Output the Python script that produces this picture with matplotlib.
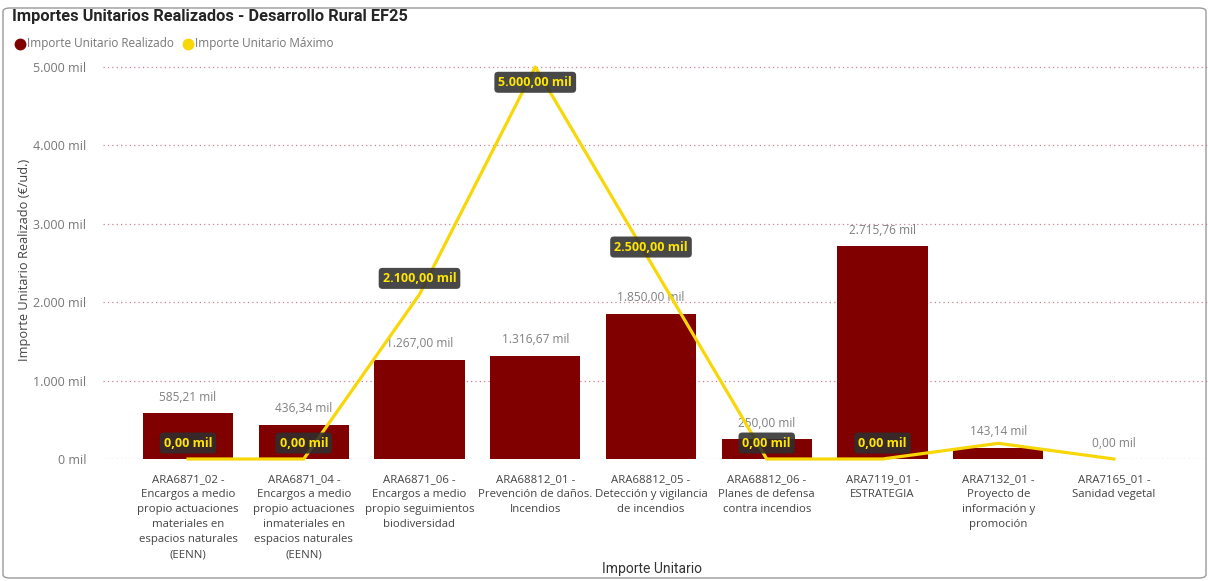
import matplotlib
matplotlib.use("Agg")
import matplotlib.pyplot as plt
from matplotlib.patches import FancyBboxPatch
from matplotlib.lines import Line2D
import numpy as np

categories = [
    "ARA6871_02 -\nEncargos a medio\npropio actuaciones\nmateriales en\nespacios naturales\n(EENN)",
    "ARA6871_04 -\nEncargos a medio\npropio actuaciones\ninmateriales en\nespacios naturales\n(EENN)",
    "ARA6871_06 -\nEncargos a medio\npropio seguimientos\nbiodiversidad",
    "ARA68812_01 -\nPrevención de daños.\nIncendios",
    "ARA68812_05 -\nDetección y vigilancia\nde incendios",
    "ARA68812_06 -\nPlanes de defensa\ncontra incendios",
    "ARA7119_01 -\nESTRATEGIA",
    "ARA7132_01 -\nProyecto de\ninformación y\npromoción",
    "ARA7165_01 -\nSanidad vegetal",
]
realizado = [585.21, 436.34, 1267.00, 1316.67, 1850.00, 250.00, 2715.76, 143.14, 0.00]
maximo = [0.0, 0.0, 2100.0, 5000.0, 2500.0, 0.0, 0.0, 200.0, 0.0]
maximo_label_visible = [True, True, True, True, True, True, True, False, False]
y_ticks = [0, 1000, 2000, 3000, 4000, 5000]

title = "Importes Unitarios Realizados - Desarrollo Rural EF25"
legend_names = ["Importe Unitario Realizado", "Importe Unitario Máximo"]
y_title = "Importe Unitario Realizado (€/ud.)"
x_title = "Importe Unitario"

BAR = "#800000"
LINE = "#F7D708"
W, H = 1208, 581

plt.rcParams['font.family'] = ['Open Sans', 'DejaVu Sans']

def fmt(v, dec=2):
    s = f"{v:,.{dec}f}"
    return s.replace(",", "X").replace(".", ",").replace("X", ".") + " mil"

fig = plt.figure(figsize=(W / 100, H / 100), dpi=100)

def fx(px):
    return px / W

def fy(py):
    return 1 - py / H

# border frame
frame = FancyBboxPatch((fx(3), fy(578)), fx(1203), fy(8) - fy(578),
                       boxstyle="round,pad=0,rounding_size=0.006",
                       transform=fig.transFigure, fill=False,
                       edgecolor="#9a9a9a", linewidth=1.0)
fig.patches.append(frame)

# axes placement
ax_left, ax_right = 103, 1208
ax_top, ax_bottom = 60, 459
ax = fig.add_axes([fx(ax_left), fy(ax_bottom), fx(ax_right - ax_left), fy(ax_top) - fy(ax_bottom)])

x = np.arange(len(categories))
spacing = 115.75
ax.set_xlim(-(188 - ax_left) / spacing, 8 + (ax_right - 1114) / spacing)
y_top = 5000 * (ax_bottom - ax_top) / (ax_bottom - 67)
ax.set_ylim(0, y_top)

for s in ax.spines.values():
    s.set_visible(False)

ax.set_yticks(y_ticks)
ax.set_yticklabels([fmt(v, 0) for v in y_ticks], color="#777777", fontsize=9)
ax.yaxis.grid(True, linestyle=(0, (1, 2.5)), color="#d08090", linewidth=0.9)
ax.set_axisbelow(True)
ax.tick_params(axis="y", length=0, pad=12)
ax.tick_params(axis="x", length=0, pad=11)
ax.set_xticks(x)
ax.set_xticklabels(categories, fontsize=8.2, color="#444444", linespacing=1.5, va="top")

bars = ax.bar(x, realizado, width=0.78, color=BAR, zorder=2)
for xi, v in zip(x, realizado):
    ax.annotate(fmt(v), (xi, v), xytext=(0, 11.5), textcoords="offset points",
                ha="center", va="center", fontsize=8.6, color="#808080", zorder=3)

ax.plot(x, maximo, color=LINE, linewidth=2.3, zorder=4, clip_on=False,
        solid_joinstyle="round")
for xi, v, vis in zip(x, maximo, maximo_label_visible):
    if not vis:
        continue
    off = -11 if v >= 5000 else 11.5
    ax.annotate(fmt(v), (xi, v), xytext=(0, off), textcoords="offset points",
                ha="center", va="center", fontsize=9, fontweight="bold",
                color="#FFE600", zorder=5,
                bbox=dict(boxstyle="round,pad=0.32,rounding_size=0.3",
                          fc="#2e2e2e", ec="none", alpha=0.88))

ax.set_ylabel(y_title, fontsize=9.2, color="#444444", labelpad=8)
ax.yaxis.set_label_coords(-(ax_left - 25) / (ax_right - ax_left), 0.5)
ax.yaxis.label.set_va("center")

fig.text(fx(652), fy(569), x_title, ha="center", va="center",
         fontsize=10, color="#333333", family=["Roboto", "DejaVu Sans"])

fig.text(fx(12), fy(17), title, ha="left", va="center", fontsize=11.8,
         fontweight="bold", color="#252525", family=["Roboto", "DejaVu Sans"])

# legend
leg_items = [(20, BAR, legend_names[0]), (188, LINE, legend_names[1])]
for px, col, name in leg_items:
    fig.add_artist(Line2D([fx(px)], [fy(44)], marker="o", markersize=7.5,
                          color=col, linestyle="none", transform=fig.transFigure))
    fig.text(fx(px + 7), fy(44), name, ha="left", va="center", fontsize=8.5,
             color="#777777")

fig.savefig("out.png", dpi=100)
